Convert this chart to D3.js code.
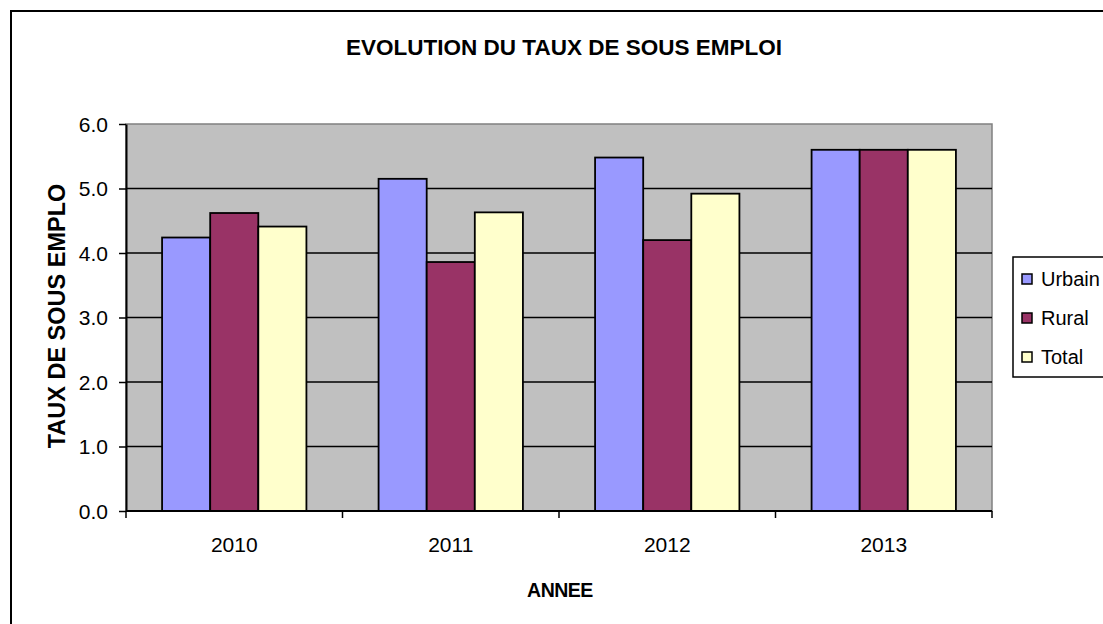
<!DOCTYPE html>
<html>
<head>
<meta charset="utf-8">
<script src="https://cdn.jsdelivr.net/npm/d3@7"></script>
<style>
  body { margin: 0; background: #ffffff; }
  text { font-family: Arial, "Liberation Sans", sans-serif; }
</style>
</head>
<body>
<div id="chart"></div>
<script>
var years = ["2010", "2011", "2012", "2013"];
var seriesNames = ["Urbain", "Rural", "Total"];
var urbain = [4.24, 5.15, 5.48, 5.60];
var rural = [4.62, 3.86, 4.20, 5.60];
var total = [4.41, 4.63, 4.92, 5.60];
var yTicks = [0, 1, 2, 3, 4, 5, 6];
var colors = ["#9999ff", "#993366", "#ffffcc"];

var w = 1103, h = 624;
var plotLeft = 126, plotRight = 992, plotTop = 124, plotBottom = 511;

var svg = d3.select("#chart").append("svg").attr("width", w).attr("height", h);

// chart border
svg.append("rect").attr("x", 11).attr("y", 11).attr("width", w + 20).attr("height", h + 20)
    .attr("fill", "#ffffff").attr("stroke", "#000000").attr("stroke-width", 2);

var x0 = d3.scaleBand().domain(years).range([plotLeft, plotRight]);
var x1 = d3.scaleBand().domain(seriesNames).range([x0.bandwidth() / 6, x0.bandwidth() * 5 / 6]);
var y = d3.scaleLinear().domain([0, 6]).range([plotBottom, plotTop]);

// plot area
svg.append("rect").attr("x", plotLeft).attr("y", plotTop)
    .attr("width", plotRight - plotLeft).attr("height", plotBottom - plotTop)
    .attr("fill", "#c0c0c0").attr("stroke", "#808080").attr("stroke-width", 1.5);

// grid
svg.append("g").selectAll("line").data(yTicks.slice(1, -1)).enter().append("line")
    .attr("x1", plotLeft).attr("x2", plotRight)
    .attr("y1", function (d) { return y(d); }).attr("y2", function (d) { return y(d); })
    .attr("stroke", "#000000").attr("stroke-width", 1.5);

var data = years.map(function (yr, i) {
    return { year: yr, values: [urbain[i], rural[i], total[i]] };
});

svg.append("g").selectAll("g").data(data).enter().append("g")
    .attr("transform", function (d) { return "translate(" + x0(d.year) + ",0)"; })
    .selectAll("rect").data(function (d) {
        return d.values.map(function (v, j) { return { name: seriesNames[j], value: v, color: colors[j] }; });
    }).enter().append("rect")
    .attr("x", function (d) { return x1(d.name); })
    .attr("y", function (d) { return y(d.value); })
    .attr("width", x1.bandwidth())
    .attr("height", function (d) { return plotBottom - y(d.value); })
    .attr("fill", function (d) { return d.color; })
    .attr("stroke", "#000000").attr("stroke-width", 1.8);

// y axis
var yAxis = svg.append("g").attr("transform", "translate(" + plotLeft + ",0)")
    .call(d3.axisLeft(y).tickValues(yTicks).tickFormat(d3.format(".1f")).tickSize(7).tickSizeOuter(0));
yAxis.select(".domain").attr("stroke", "#000").attr("stroke-width", 2);
yAxis.selectAll(".tick line").attr("stroke", "#000").attr("stroke-width", 1.5);
yAxis.selectAll(".tick text").attr("font-size", "21px").attr("font-family", "Arial, 'Liberation Sans', sans-serif")
    .attr("fill", "#000").attr("x", -18).attr("dy", "0.35em");

// x axis with ticks at category boundaries
var xAxis = svg.append("g").attr("transform", "translate(0," + plotBottom + ")");
xAxis.append("line").attr("x1", plotLeft).attr("x2", plotRight).attr("stroke", "#000").attr("stroke-width", 2);
xAxis.selectAll(".xt").data(years.concat(["end"])).enter().append("line")
    .attr("x1", function (d) { return d === "end" ? plotRight : x0(d); })
    .attr("x2", function (d) { return d === "end" ? plotRight : x0(d); })
    .attr("y1", 0).attr("y2", 7).attr("stroke", "#000").attr("stroke-width", 1.5);
xAxis.selectAll(".xl").data(years).enter().append("text")
    .attr("x", function (d) { return x0(d) + x0.bandwidth() / 2; })
    .attr("y", 41).attr("text-anchor", "middle").attr("font-size", "21px").text(function (d) { return d; });

// titles
svg.append("text").attr("x", 564).attr("y", 55).attr("text-anchor", "middle")
    .attr("font-size", "22.5px").attr("font-weight", "bold")
    .text("EVOLUTION DU TAUX DE SOUS EMPLOI");
svg.append("text").attr("x", 560).attr("y", 597).attr("text-anchor", "middle")
    .attr("font-size", "19.5px").attr("font-weight", "bold").attr("letter-spacing", "-0.5px").text("ANNEE");
svg.append("text").attr("transform", "translate(65,316) rotate(-90)").attr("text-anchor", "middle")
    .attr("font-size", "23.5px").attr("font-weight", "bold")
    .text("TAUX DE SOUS EMPLO");

// legend
var legend = svg.append("g").attr("transform", "translate(1013,257)");
legend.append("rect").attr("width", 120).attr("height", 120)
    .attr("fill", "#ffffff").attr("stroke", "#000").attr("stroke-width", 1.5);
var items = legend.selectAll(".item").data(seriesNames).enter().append("g")
    .attr("transform", function (d, i) { return "translate(0," + (22 + i * 39) + ")"; });
items.append("rect").attr("x", 9).attr("y", -5).attr("width", 10).attr("height", 10)
    .attr("fill", function (d, i) { return colors[i]; }).attr("stroke", "#000").attr("stroke-width", 1.5);
items.append("text").attr("x", 28).attr("y", 7).attr("font-size", "20px").text(function (d) { return d; });
</script>
</body>
</html>
